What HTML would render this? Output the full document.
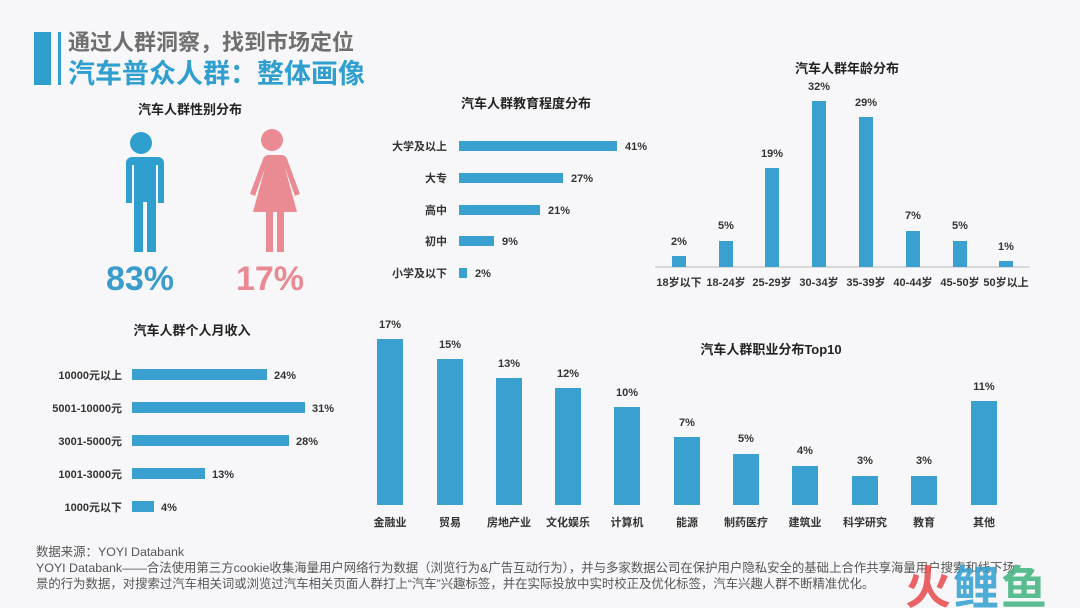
<!DOCTYPE html>
<html><head><meta charset="utf-8"><style>
html,body{margin:0;padding:0;background:#f7f7f9;}
svg{display:block;font-family:"Liberation Sans","Noto Sans CJK SC",sans-serif;}
</style></head><body>
<svg width="1080" height="608" viewBox="0 0 1080 608" xmlns="http://www.w3.org/2000/svg">
<rect width="1080" height="608" fill="#f7f7f9"/>
<!-- header -->
<rect x="34" y="32" width="17" height="53" fill="#2f9fd0"/>
<rect x="58" y="32" width="3" height="53" fill="#2f9fd0"/>
<text x="68" y="50" font-size="22" font-weight="bold" fill="#6f6f6f">通过人群洞察，找到市场定位</text>
<text x="68" y="83" font-size="27" font-weight="bold" fill="#2f9fd0">汽车普众人群：整体画像</text>

<!-- gender -->
<text x="190" y="114" font-size="13" font-weight="bold" fill="#222" text-anchor="middle">汽车人群性别分布</text>
<g fill="#2f9fd0">
<circle cx="141" cy="143" r="11"/>
<path d="M124 157 h34 a6 6 0 0 1 6 6 v40 h-6 v-38 h-2 v87 h-9 v-50 h-4 v50 h-9 v-87 h-2 v38 h-6 v-40 a6 6 0 0 1 6 -6z"/>
</g>
<g fill="#ea8a92">
<circle cx="272" cy="140" r="11"/>
<path d="M262 155 h20 a6 6 0 0 1 5 4 l13 35 l-5 2 l-10 -28 l12 44 h-13 v40 h-7 v-40 h-4 v40 h-7 v-40 h-13 l12 -44 l-10 28 l-5 -2 l13 -35 a6 6 0 0 1 5 -4z"/>
</g>
<text x="140" y="290" font-size="34" font-weight="bold" fill="#3a9ccb" text-anchor="middle">83%</text>
<text x="270" y="290" font-size="34" font-weight="bold" fill="#e98a92" text-anchor="middle">17%</text>

<!-- education -->
<text x="526" y="108" font-size="13" font-weight="bold" fill="#222" text-anchor="middle">汽车人群教育程度分布</text>
<g font-size="11" font-weight="bold" fill="#333">
<rect x="459" y="141" width="158" height="10" fill="#3aa0d0"/><text x="447" y="150" text-anchor="end">大学及以上</text><text x="625" y="150">41%</text>
<rect x="459" y="173" width="104" height="10" fill="#3aa0d0"/><text x="447" y="182" text-anchor="end">大专</text><text x="571" y="182">27%</text>
<rect x="459" y="205" width="81" height="10" fill="#3aa0d0"/><text x="447" y="214" text-anchor="end">高中</text><text x="548" y="214">21%</text>
<rect x="459" y="236" width="35" height="10" fill="#3aa0d0"/><text x="447" y="245" text-anchor="end">初中</text><text x="502" y="245">9%</text>
<rect x="459" y="268" width="8" height="10" fill="#3aa0d0"/><text x="447" y="277" text-anchor="end">小学及以下</text><text x="475" y="277">2%</text>
</g>

<!-- age -->
<text x="847" y="73" font-size="13" font-weight="bold" fill="#222" text-anchor="middle">汽车人群年龄分布</text>
<line x1="655" y1="267" x2="1030" y2="267" stroke="#bbb"/>
<g fill="#3aa0d0">
<rect x="672" y="256" width="14" height="11"/>
<rect x="719" y="241" width="14" height="26"/>
<rect x="765" y="168" width="14" height="99"/>
<rect x="812" y="101" width="14" height="166"/>
<rect x="859" y="117" width="14" height="150"/>
<rect x="906" y="231" width="14" height="36"/>
<rect x="953" y="241" width="14" height="26"/>
<rect x="999" y="261" width="14" height="6"/>
</g>
<g font-size="11" font-weight="bold" fill="#333" text-anchor="middle">
<text x="679" y="245">2%</text><text x="726" y="229">5%</text><text x="772" y="157">19%</text><text x="819" y="90">32%</text>
<text x="866" y="106">29%</text><text x="913" y="219">7%</text><text x="960" y="229">5%</text><text x="1006" y="250">1%</text>
<text x="679" y="286">18岁以下</text><text x="726" y="286">18-24岁</text><text x="772" y="286">25-29岁</text><text x="819" y="286">30-34岁</text>
<text x="866" y="286">35-39岁</text><text x="913" y="286">40-44岁</text><text x="960" y="286">45-50岁</text><text x="1006" y="286">50岁以上</text>
</g>

<!-- income -->
<text x="192" y="335" font-size="13" font-weight="bold" fill="#222" text-anchor="middle">汽车人群个人月收入</text>
<g font-size="11" font-weight="bold" fill="#333">
<rect x="132" y="369" width="135" height="11" fill="#3aa0d0"/><text x="122" y="379" text-anchor="end">10000元以上</text><text x="274" y="379">24%</text>
<rect x="132" y="402" width="173" height="11" fill="#3aa0d0"/><text x="122" y="412" text-anchor="end">5001-10000元</text><text x="312" y="412">31%</text>
<rect x="132" y="435" width="157" height="11" fill="#3aa0d0"/><text x="122" y="445" text-anchor="end">3001-5000元</text><text x="296" y="445">28%</text>
<rect x="132" y="468" width="73" height="11" fill="#3aa0d0"/><text x="122" y="478" text-anchor="end">1001-3000元</text><text x="212" y="478">13%</text>
<rect x="132" y="501" width="22" height="11" fill="#3aa0d0"/><text x="122" y="511" text-anchor="end">1000元以下</text><text x="161" y="511">4%</text>
</g>

<!-- occupation -->
<text x="771" y="354" font-size="13" font-weight="bold" fill="#222" text-anchor="middle">汽车人群职业分布Top10</text>
<g fill="#3aa0d0">
<rect x="377" y="339" width="26" height="166"/>
<rect x="437" y="359" width="26" height="146"/>
<rect x="496" y="378" width="26" height="127"/>
<rect x="555" y="388" width="26" height="117"/>
<rect x="614" y="407" width="26" height="98"/>
<rect x="674" y="437" width="26" height="68"/>
<rect x="733" y="454" width="26" height="51"/>
<rect x="792" y="466" width="26" height="39"/>
<rect x="852" y="476" width="26" height="29"/>
<rect x="911" y="476" width="26" height="29"/>
<rect x="971" y="401" width="26" height="104"/>
</g>
<g font-size="11" font-weight="bold" fill="#333" text-anchor="middle">
<text x="390" y="328">17%</text><text x="450" y="348">15%</text><text x="509" y="367">13%</text><text x="568" y="377">12%</text>
<text x="627" y="396">10%</text><text x="687" y="426">7%</text><text x="746" y="442">5%</text><text x="805" y="454">4%</text>
<text x="865" y="464">3%</text><text x="924" y="464">3%</text><text x="984" y="390">11%</text>
<text x="390" y="526">金融业</text><text x="450" y="526">贸易</text><text x="509" y="526">房地产业</text><text x="568" y="526">文化娱乐</text>
<text x="627" y="526">计算机</text><text x="687" y="526">能源</text><text x="746" y="526">制药医疗</text><text x="805" y="526">建筑业</text>
<text x="865" y="526">科学研究</text><text x="924" y="526">教育</text><text x="984" y="526">其他</text>
</g>

<!-- footer -->
<g font-size="12.4" fill="#555">
<text x="36" y="556">数据来源：YOYI Databank</text>
<text x="36" y="572">YOYI Databank——合法使用第三方cookie收集海量用户网络行为数据（浏览行为&amp;广告互动行为），并与多家数据公司在保护用户隐私安全的基础上合作共享海量用户搜索和线下场</text>
<text x="36" y="588">景的行为数据，对搜索过汽车相关词或浏览过汽车相关页面人群打上“汽车”兴趣标签，并在实际投放中实时校正及优化标签，汽车兴趣人群不断精准优化。</text>
</g>
<text x="905" y="604" font-size="46" font-weight="bold" fill="#e8494a" opacity="0.85">火</text>
<text x="953" y="604" font-size="46" font-weight="bold" fill="#2f9fd0" opacity="0.85">鲤</text>
<text x="1001" y="604" font-size="46" font-weight="bold" fill="#3fb37f" opacity="0.85">鱼</text>
</svg>
</body></html>
